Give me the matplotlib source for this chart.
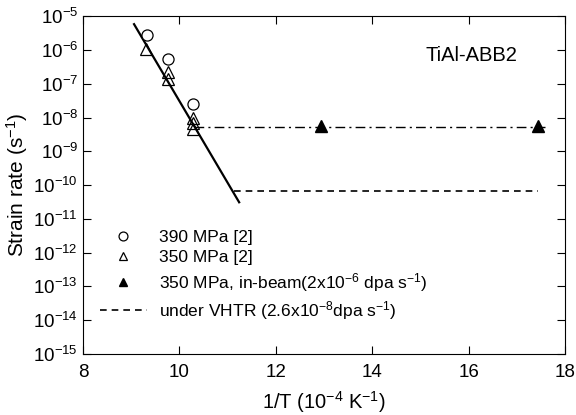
import matplotlib.pyplot as plt
import matplotlib.ticker as ticker
import numpy as np

plt.rcParams['font.family'] = ['Liberation Sans', 'DejaVu Sans']
plt.rcParams['mathtext.fontset'] = 'custom'
plt.rcParams['mathtext.rm'] = 'Liberation Sans'
plt.rcParams['mathtext.default'] = 'regular'

# 390 MPa [2]
x390 = [9.32, 9.77, 10.28]
y390 = [2.8e-6, 5.3e-7, 2.6e-8]
# 350 MPa [2]
x350 = [9.30, 9.77, 9.77, 10.28, 10.28, 10.28]
y350 = [1.1e-6, 2.2e-7, 1.35e-7, 1.0e-8, 7.0e-9, 4.5e-9]
# 350 MPa in-beam
xbeam = [12.93, 17.44]
ybeam = [5.5e-9, 5.5e-9]
# fit lines
fit_x = [9.06, 11.24]
fit_y = [5.8e-6, 3.1e-11]
beam_line_x = [10.30, 17.58]
beam_line_y = [5.2e-9, 5.2e-9]
vhtr_x = [11.14, 17.44]
vhtr_y = [6.8e-11, 6.8e-11]

fig = plt.figure(figsize=(5.76, 4.15), dpi=100)
ax = fig.add_axes([0.144, 0.147, 0.837, 0.814])

ax.plot(fit_x, fit_y, '-', color='black', lw=1.6)
ax.plot(beam_line_x, beam_line_y, color='black', lw=1.0, dashes=[7, 3, 1.5, 3])
ax.plot(vhtr_x, vhtr_y, '--', color='black', lw=1.2, dashes=[4, 3], label='under VHTR (2.6x10$^{-8}$dpa s$^{-1}$)')
ax.plot(x390, y390, 'o', mfc='white', mec='black', ms=8, mew=0.9, label='390 MPa [2]')
ax.plot(x350, y350, '^', mfc='none', mec='black', ms=8, mew=0.9, label='350 MPa [2]')
ax.plot(xbeam, ybeam, '^', color='black', ms=8, label='350 MPa, in-beam(2x10$^{-6}$ dpa s$^{-1}$)')

ax.set_yscale('log')
ax.set_xlim(8, 18)
ax.set_ylim(1e-15, 1e-5)
ax.set_xticks([8, 10, 12, 14, 16, 18])
ax.set_yticks([10.0**k for k in range(-15, -4)])
ax.yaxis.set_minor_locator(ticker.NullLocator())
ax.set_yticklabels([r'$10^{%d}$' % k for k in range(-15, -4)])
ax.tick_params(direction='in', length=6, width=0.8, top=True, right=True, labelsize=13.5)
ax.tick_params(axis='x', pad=7)

ax.set_xlabel('1/T (10$^{-4}$ K$^{-1}$)', fontsize=14.5, labelpad=6)
ax.set_ylabel('Strain rate (s$^{-1}$)', fontsize=15, labelpad=2)
ax.text(16.05, 10**-6.16, 'TiAl-ABB2', fontsize=14.5, ha='center', va='center')

handles, labels = ax.get_legend_handles_labels()
order = [1, 2, 3, 0]
ax.legend([handles[i] for i in order], [labels[i] for i in order], loc='lower left',
          frameon=False, fontsize=12.5, handlelength=2.7, handletextpad=0.7,
          labelspacing=0.3, borderaxespad=0.0, markerscale=0.8,
          bbox_to_anchor=(0.021, 0.075))

fig.savefig('out.png', dpi=100)
